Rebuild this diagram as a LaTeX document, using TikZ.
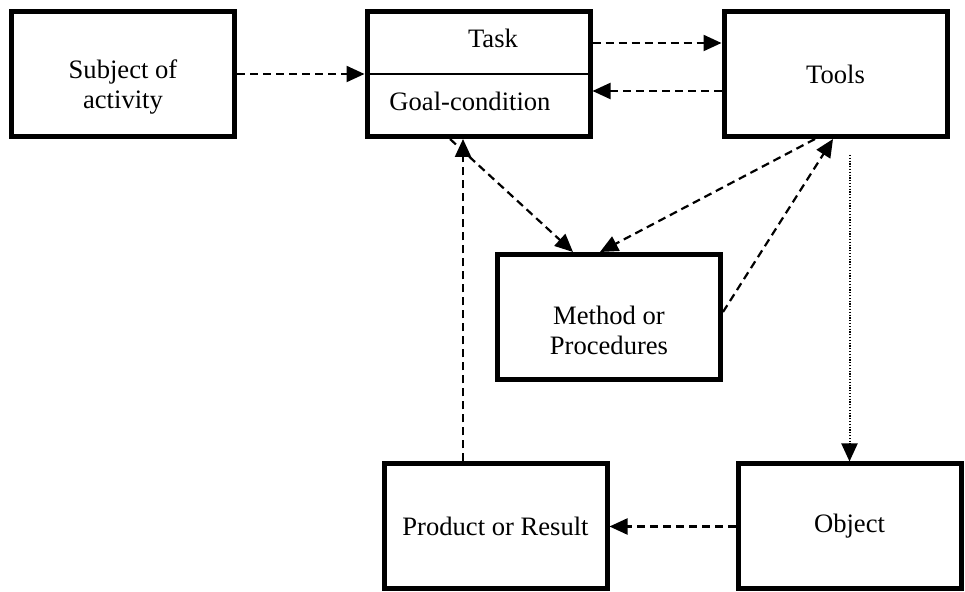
\documentclass[tikz,border=0pt]{standalone}
\usepackage{fontspec}
\setmainfont{Liberation Serif}
\usetikzlibrary{arrows.meta,positioning,calc}

\begin{document}
\begin{tikzpicture}[
  x=0.5pt,y=-0.5pt,
  every node/.style={font=\fontsize{13.3}{15}\selectfont},
  box/.style={draw, line width=2.5pt, minimum width=111.5pt, minimum height=62.5pt, inner sep=0pt, align=center},
  link/.style={line width=1.1pt, dash pattern=on 4pt off 2.5pt, -{Triangle[length=9pt,width=8pt]}},
  dotlink/.style={line width=1pt, dash pattern=on 0.6pt off 0.8pt, -{Triangle[length=9pt,width=8pt]}}
]
\useasboundingbox (0,0) rectangle (965,592);

\node[box] (subject) at (123,74) {};
\node[align=center] (subjectlabel) at (123,87) {Subject of\\activity};
\node[box] (taskbox) at (478.5,74) {};
\node (tasklabel) at (493,38) {Task};
\node (goallabel) at (470,101) {Goal-condition};
\draw[line width=1pt] (taskbox.west) -- (taskbox.east);
\node[box] (tools) at (835.5,74) {Tools};
\node[box] (method) at (609,317) {};
\node[align=center] (methodlabel) at (609,330) {Method or\\Procedures};
\node[box] (product) at (495.5,526.5) {Product or Result};
\node[box] (object) at (849.5,526.5) {Object};

\draw[link] (subject.east) -- (taskbox.west);
\draw[link] ([yshift=15.5pt]taskbox.east) -- ([yshift=15.5pt]tools.west);
\draw[link] ([yshift=-8.5pt]tools.west) -- ([yshift=-8.5pt]taskbox.east);
\draw[link] ([xshift=-14.25pt]taskbox.south) -- ([xshift=-18pt]method.north);
\draw[link] ([xshift=-10.25pt]tools.south) -- ([xshift=-4.5pt]method.north);
\draw[link] ([yshift=2.5pt]method.east) -- ([xshift=-1.25pt]tools.south);
\draw[link] ([xshift=-16.25pt]product.north) -- ([xshift=-16.25pt]product.north |- taskbox.south);
\draw[dotlink] ($(tools.south -| object.north)+(0,16)$) -- (object.north);
\draw[link] (object.west) -- (product.east);
\end{tikzpicture}
\end{document}
